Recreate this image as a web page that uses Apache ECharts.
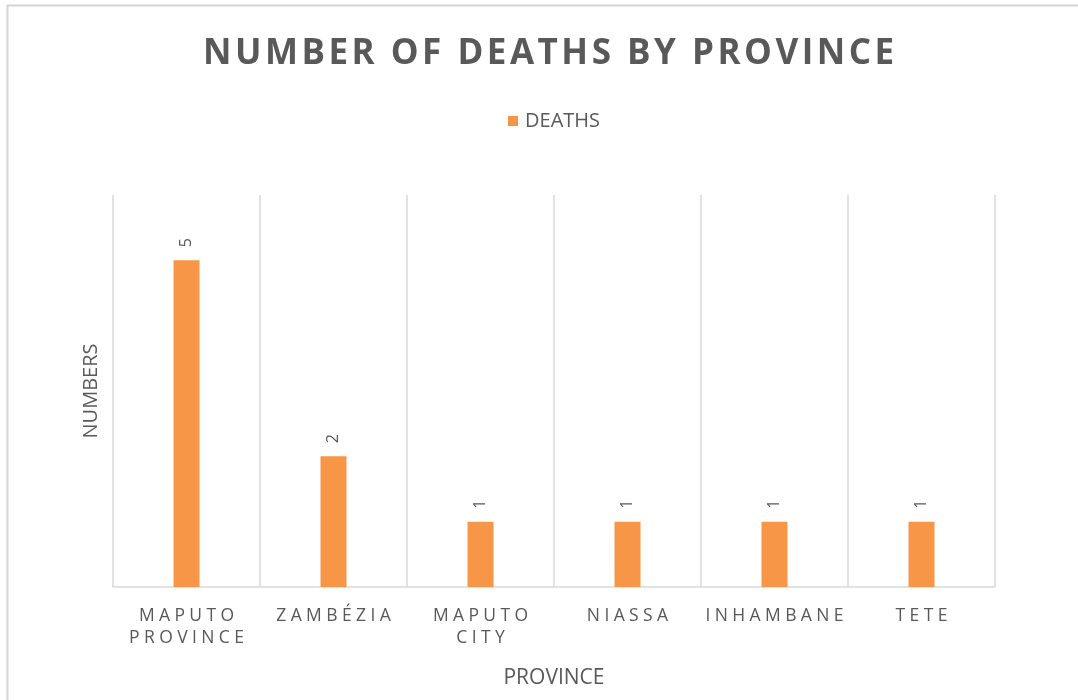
<!DOCTYPE html>
<html>
<head>
<meta charset="utf-8">
<script src="https://cdn.jsdelivr.net/npm/echarts@6/dist/echarts.min.js"></script>
<style>
  html, body { margin: 0; padding: 0; background: #ffffff; }
  #chart { width: 1078px; height: 700px; }
</style>
</head>
<body>
<div id="chart"></div>
<script>
// Provinces and recorded deaths
const provinces = ['MAPUTO PROVINCE', 'ZAMBÉZIA', 'MAPUTO CITY', 'NIASSA', 'INHAMBANE', 'TETE'];
const deaths = [5, 2, 1, 1, 1, 1];
const seriesName = 'DEATHS';
const titleText = 'NUMBER OF DEATHS BY PROVINCE';
const xAxisName = 'PROVINCE';
const yAxisName = 'NUMBERS';

// widen tracking by putting a narrow space between letters
function track(str, gap) {
  return str.split(' ').map(w => Array.from(w).join(gap)).join(gap + ' ' + gap);
}

const grey = '#595959';
const chart = echarts.init(document.getElementById('chart'));

chart.setOption({
  backgroundColor: '#ffffff',
  animation: false,
  textStyle: { fontFamily: 'Open Sans' },
  graphic: [{
    type: 'rect',
    shape: { x: 7.5, y: 5.5, width: 1200, height: 900 },
    style: { fill: 'none', stroke: '#d4d4d4', lineWidth: 2 },
    silent: true
  }],
  title: {
    text: track(titleText, '\u200A'),
    left: 198,
    top: 32,
    textStyle: { fontFamily: 'Open Sans', fontWeight: 'bold', fontSize: 35, color: grey }
  },
  legend: {
    data: [seriesName],
    left: 503,
    top: 106,
    itemWidth: 10,
    itemHeight: 10,
    itemGap: 10,
    icon: 'rect',
    textStyle: { fontFamily: 'Open Sans', fontSize: 20, color: grey, padding: [0, 0, 0, 2] }
  },
  grid: { left: 113, right: 83, top: 195, bottom: 113 },
  xAxis: {
    type: 'category',
    data: provinces,
    name: xAxisName,
    nameLocation: 'middle',
    nameGap: 81,
    nameTextStyle: { fontFamily: 'Open Sans', fontSize: 21, color: grey },
    axisLine: { lineStyle: { color: '#d9d9d9', width: 1.5 } },
    axisTick: { show: false },
    splitLine: { show: true, lineStyle: { color: '#d9d9d9', width: 1.5 } },
    axisLabel: {
      interval: 0,
      margin: 18,
      fontSize: 17.5,
      lineHeight: 22,
      color: grey,
      formatter: v => v.split(' ').map(w => track(w, '\u2005')).join('\n')
    }
  },
  yAxis: {
    type: 'value',
    min: 0,
    max: 6,
    interval: 1,
    name: yAxisName,
    nameLocation: 'middle',
    nameRotate: 90,
    nameGap: 12,
    nameTextStyle: { fontFamily: 'Open Sans', fontSize: 20, color: grey },
    axisLine: { show: false },
    axisTick: { show: false },
    axisLabel: { show: false },
    splitLine: { show: false }
  },
  series: [{
    name: seriesName,
    type: 'bar',
    data: deaths,
    barWidth: 26,
    itemStyle: { color: '#F79646' },
    label: {
      show: true,
      position: 'top',
      distance: 13,
      rotate: 90,
      align: 'left',
      verticalAlign: 'middle',
      fontSize: 16,
      color: grey
    }
  }]
});
</script>
</body>
</html>
